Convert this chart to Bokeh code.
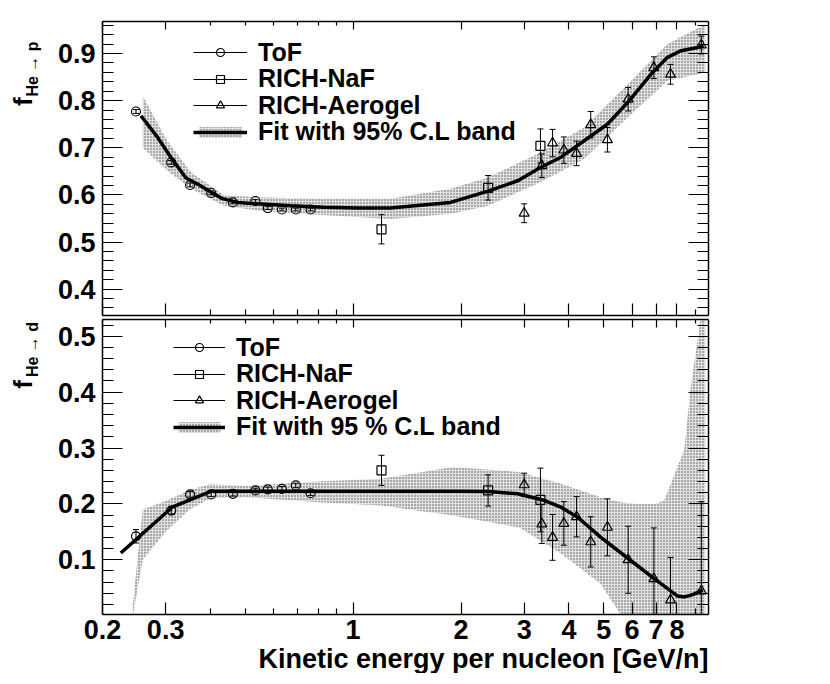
import numpy as np
from bokeh.plotting import figure
from bokeh.models import (LogAxis, LinearAxis, FixedTicker, SingleIntervalTicker, Range1d,
                          Legend, LegendItem, CustomJSTickFormatter, Title)
from bokeh.layouts import column, row
from bokeh.embed import file_html
from bokeh.resources import INLINE
from bokeh.core.properties import value

FONT = "Liberation Sans"

# ---------------- data ----------------
x_ticks = [0.2, 0.3, 1, 2, 3, 4, 5, 6, 7, 8]
x_minor = [0.4, 0.5, 0.6, 0.7, 0.8, 0.9, 9]

tof_x = [0.248, 0.311, 0.351, 0.402, 0.462, 0.534, 0.578, 0.633, 0.692, 0.761]
naf_x = [1.20, 2.38, 3.33]
agl_x = [3.0, 3.36, 3.6, 3.87, 4.2, 4.6, 5.12, 5.85, 6.9, 7.68, 9.36]

# He -> p
p_tof_y = [0.777, 0.669, 0.621, 0.604, 0.584, 0.587, 0.572, 0.569, 0.569, 0.569]
p_tof_e = [0.004, 0.004, 0.004, 0.004, 0.003, 0.003, 0.003, 0.003, 0.003, 0.003]
p_naf_y = [0.527, 0.615, 0.704]
p_naf_e = [0.031, 0.026, 0.036]
p_agl_y = [0.561, 0.662, 0.710, 0.695, 0.688, 0.749, 0.717, 0.803, 0.870, 0.856, 0.918]
p_agl_e = [0.020, 0.025, 0.029, 0.028, 0.026, 0.028, 0.026, 0.025, 0.023, 0.021, 0.019]
p_fit_x = [0.256, 0.285, 0.310, 0.342, 0.368, 0.401, 0.432, 0.476, 0.541, 0.670, 0.830,
           1.03, 1.27, 1.87, 2.38, 2.88, 3.33, 3.80, 4.41, 5.12, 5.83, 6.77, 7.53, 8.21, 9.13, 9.5]
p_fit_y = [0.768, 0.722, 0.680, 0.636, 0.623, 0.606, 0.592, 0.584, 0.581, 0.577, 0.574,
           0.572, 0.572, 0.584, 0.608, 0.630, 0.658, 0.680, 0.715, 0.750, 0.796, 0.856, 0.892, 0.906, 0.913, 0.916]
p_band_x = [0.259, 0.303, 0.353, 0.436, 0.541, 0.8, 1.27, 1.87, 2.38, 3.33, 4.41, 5.83, 7.53, 9.6]
p_band_lo = [0.700, 0.652, 0.613, 0.577, 0.567, 0.558, 0.549, 0.560, 0.577, 0.627, 0.676, 0.764, 0.842, 0.860]
p_band_hi = [0.810, 0.715, 0.648, 0.599, 0.595, 0.592, 0.592, 0.613, 0.637, 0.690, 0.743, 0.835, 0.920, 0.962]

# He -> d
d_tof_y = [0.142, 0.188, 0.217, 0.217, 0.218, 0.224, 0.226, 0.227, 0.233, 0.219]
d_tof_e = [0.012, 0.006, 0.005, 0.004, 0.004, 0.004, 0.004, 0.004, 0.004, 0.004]
d_naf_y = [0.260, 0.224, 0.207]
d_naf_e = [0.027, 0.028, 0.057]
d_agl_y = [0.234, 0.164, 0.140, 0.165, 0.177, 0.132, 0.158, 0.100, 0.066, 0.028, 0.044]
d_agl_e = [0.021, 0.035, 0.041, 0.039, 0.036, 0.045, 0.051, 0.060, 0.091, 0.076, 0.160]
d_fit_x = [0.225, 0.313, 0.401, 0.6, 1.0, 1.5, 2.0, 2.38, 2.88, 3.38, 3.80, 4.23, 4.91,
           5.91, 6.96, 8.04, 8.4, 8.9, 9.44]
d_fit_y = [0.112, 0.194, 0.2225, 0.2225, 0.2225, 0.2225, 0.2225, 0.222, 0.218, 0.207, 0.194,
           0.176, 0.140, 0.100, 0.065, 0.035, 0.0335, 0.038, 0.046]
d_band_x = [0.243, 0.259, 0.30, 0.35, 0.40, 0.5, 0.8, 1.2, 1.9, 2.9, 3.8, 4.9, 5.6, 6.2,
            6.96, 7.37, 8.38, 8.75, 9.17, 9.6]
d_band_lo = [0.0, 0.10, 0.15, 0.19, 0.210, 0.212, 0.203, 0.197, 0.179, 0.158, 0.111, 0.057,
             0.0, -0.05, -0.1, -0.1, -0.1, -0.1, -0.1, -0.1]
d_band_hi = [0.02, 0.19, 0.205, 0.225, 0.235, 0.232, 0.240, 0.245, 0.266, 0.257, 0.236, 0.212,
             0.203, 0.200, 0.200, 0.206, 0.296, 0.409, 0.50, 0.60]

X_RANGE = (0.2, 9.8)
TITLE_W = 50
LEG_FONT = "25px"
LEG_HALF = 14.4


def style_axis(ax, ticker, tick_in, minor_in, show_labels, size="27px"):
    ax.ticker = ticker
    ax.major_tick_in = tick_in
    ax.major_tick_out = 0
    ax.minor_tick_in = minor_in
    ax.minor_tick_out = 0
    ax.axis_line_color = "black"
    ax.axis_line_width = 1.5
    ax.major_tick_line_width = 1.2
    ax.minor_tick_line_width = 1.2
    ax.major_tick_line_color = "black"
    ax.minor_tick_line_color = "black"
    if show_labels:
        ax.major_label_text_font = FONT
        ax.major_label_text_font_style = "bold"
        ax.major_label_text_font_size = size
        ax.major_label_text_color = "black"
    else:
        ax.formatter = CustomJSTickFormatter(code="return ''")
        ax.major_label_standoff = 0


def xticker():
    return FixedTicker(ticks=x_ticks, minor_ticks=x_minor)


def yticker():
    return SingleIntervalTicker(interval=0.1, num_minor_ticks=5)


def panel(y_range, frame_h, top_b, bottom_b, show_x):
    p = figure(x_axis_type="log", x_range=Range1d(*X_RANGE), y_range=Range1d(*y_range),
               frame_width=606, frame_height=frame_h,
               min_border_left=102 - TITLE_W, min_border_right=14, min_border_top=top_b,
               min_border_bottom=bottom_b, output_backend="svg", toolbar_location=None)
    p.grid.visible = False
    p.outline_line_color = None
    p.background_fill_color = "white"
    p.border_fill_color = "white"
    xa = p.xaxis[0]
    style_axis(xa, xticker(), 12, 6, show_x)
    if show_x:
        xa.formatter = CustomJSTickFormatter(code="return String(Math.round(tick*10)/10)")
        xa.major_label_standoff = 5
    ya = p.yaxis[0]
    style_axis(ya, yticker(), 20, 11, True)
    ya.major_label_standoff = 7
    ta = LogAxis()
    style_axis(ta, xticker(), 8, 4, False)
    p.add_layout(ta, "above")
    ra = LinearAxis()
    style_axis(ra, yticker(), 20, 11, False)
    p.add_layout(ra, "right")
    return p, xa


def draw(p, band_x, band_lo, band_hi, fit_x, fit_y, series):
    band = p.varea(x=band_x, y1=band_lo, y2=band_hi, fill_color="#e0e0e0", fill_alpha=1.0,
                   hatch_pattern="dot", hatch_color="#555555", hatch_scale=3, hatch_weight=1)
    renders = []
    for (xs, ys, es, marker, size) in series:
        xs = np.array(xs); ys = np.array(ys); es = np.array(es)
        seg = p.segment(x0=xs, y0=ys - es, x1=xs, y1=ys + es, line_color="black", line_width=1)
        p.scatter(x=np.concatenate([xs, xs]), y=np.concatenate([ys - es, ys + es]),
                  marker="dash", size=6, line_color="black", line_width=1)
        s = p.scatter(x=xs, y=ys, marker=marker, size=size, line_color="black",
                      line_width=1.2, fill_color="white", fill_alpha=0.0)
        renders.append((seg, s))
    fit = p.line(x=fit_x, y=fit_y, line_color="black", line_width=3.5)
    return band, fit, renders


def add_legend(p, band, fit, renders, labels, x0, ys, gw):
    rlists = [list(renders[0]), list(renders[1]), list(renders[2]), [band, fit]]
    for k, (lab, rl, y) in enumerate(zip(labels, rlists, ys)):
        leg = Legend(items=[LegendItem(label=lab, renderers=rl)], location=(x0, y),
                     glyph_width=gw, glyph_height=(14 if k == 3 else 20),
                     label_height=14, label_standoff=11, spacing=0, padding=0, margin=0,
                     border_line_alpha=0, background_fill_alpha=0,
                     label_text_font=FONT, label_text_font_style="bold",
                     label_text_font_size=LEG_FONT, label_text_color="black")
        p.add_layout(leg)


def title_fig(height, f_y, sub, sub_y):
    t = figure(width=TITLE_W, height=height, x_range=Range1d(0, TITLE_W), y_range=Range1d(0, height),
               min_border=0, x_axis_location=None, y_axis_location=None,
               output_backend="svg", toolbar_location=None)
    t.grid.visible = False
    t.outline_line_color = None
    t.text(x=[22], y=[f_y], text=["f"], angle=np.pi / 2, text_align="left",
           text_baseline="alphabetic", text_font=value(FONT), text_font_style="bold",
           text_font_size="26px", text_color="black")
    t.text(x=[32], y=[sub_y], text=[sub], angle=np.pi / 2, text_align="left",
           text_baseline="alphabetic", text_font=value(FONT), text_font_style="bold",
           text_font_size="16px", text_color="black")
    return t


# ---------------- top panel ----------------
TOP_H = 21 + 294 + 2
FB1 = 315  # frame bottom (page px)
p1, _ = panel((0.344, 0.968), 294, 21, 2, False)
b1, f1, r1 = draw(p1, p_band_x, p_band_lo, p_band_hi, p_fit_x, p_fit_y,
                  [(tof_x, p_tof_y, p_tof_e, "circle", 9),
                   (naf_x, p_naf_y, p_naf_e, "square", 9),
                   (agl_x, p_agl_y, p_agl_e, "triangle", 10)])
add_legend(p1, b1, f1, r1, ["ToF", "RICH-NaF", "RICH-Aerogel", "Fit with 95% C.L band"],
           91, [FB1 - (c + LEG_HALF) for c in (52.5, 79, 105.5, 132)], 54)
t1 = title_fig(TOP_H, TOP_H - 91, "He \u2192 p", TOP_H - 81)

# ---------------- bottom panel ----------------
BOT_H = 684 - TOP_H
FB2 = 614
p2, xa2 = panel((0.002, 0.53), 295, 2, 30, True)
b2, f2, r2 = draw(p2, d_band_x, d_band_lo, d_band_hi, d_fit_x, d_fit_y,
                  [(tof_x, d_tof_y, d_tof_e, "circle", 9),
                   (naf_x, d_naf_y, d_naf_e, "square", 9),
                   (agl_x, d_agl_y, d_agl_e, "triangle", 10)])
add_legend(p2, b2, f2, r2, ["ToF", "RICH-NaF", "RICH-Aerogel", "Fit with 95 % C.L band"],
           71, [FB2 - (c + LEG_HALF) for c in (347.5, 374, 400.5, 427)], 52)
t2 = title_fig(BOT_H, BOT_H - (400 - TOP_H), "He \u2192 d", BOT_H - (386 - TOP_H))

p2.add_layout(Title(text="Kinetic energy per nucleon [GeV/n]", align="right",
                    text_font=FONT, text_font_style="bold", text_font_size="27px",
                    text_color="black", standoff=0, offset=0), "below")

layout = column(row(t1, p1, spacing=0), row(t2, p2, spacing=0), spacing=0)
open("out.html", "w").write(file_html(layout, INLINE))
